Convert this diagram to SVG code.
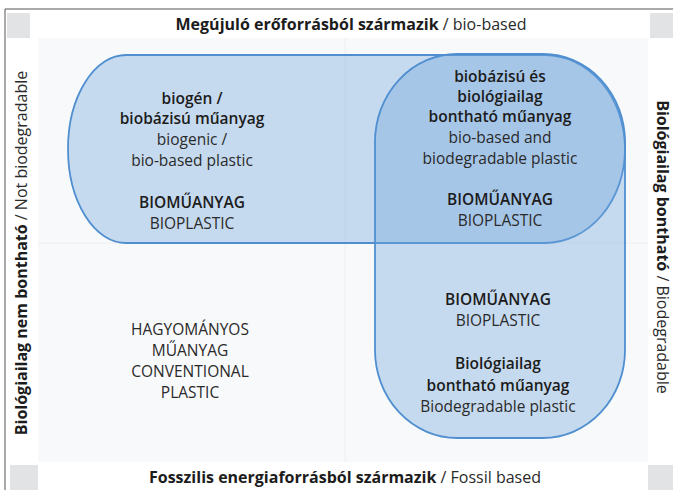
<svg xmlns="http://www.w3.org/2000/svg" width="673" height="490" viewBox="0 0 673 490">
  <style>
    text { font-family: "Open Sans", "Noto Sans", sans-serif; fill: #1c1c1c; text-anchor: middle; dominant-baseline: central; }
    .node text { font-size: 15.5px; }
    .b { font-weight: 600; }
    .r { font-weight: normal; fill: #2a2a2a; }
    .axis { font-size: 16px; }
    .axis .b { font-weight: bold; }
    .pill { fill: #6fa4dc; fill-opacity: 0.36; stroke: #4f8fd0; stroke-width: 1.8; }
    .corner { fill: #e2e3e5; }
  </style>
  <rect width="673" height="490" fill="#ffffff"/>
  <g id="frame">
    <rect x="38" y="38" width="610" height="424" fill="#f8f9fa"/>
    <line x1="345" y1="38" x2="345" y2="462" stroke="#eceef1" stroke-width="1"/>
    <line x1="38" y1="243" x2="648" y2="243" stroke="#eceef1" stroke-width="1"/>
    <line x1="5" y1="9" x2="673" y2="9" stroke="#555" stroke-width="1"/>
    <line x1="5" y1="9" x2="5" y2="490" stroke="#555" stroke-width="1"/>
    <rect class="corner" x="7" y="13" width="23" height="25"/>
    <rect class="corner" x="650" y="13" width="23" height="25"/>
    <rect class="corner" x="10" y="465" width="28" height="25"/>
    <rect class="corner" x="648" y="465" width="25" height="25"/>
  </g>
  <g id="axis-labels">
    <text class="axis" x="351" y="24"><tspan class="b">Megújuló erőforrásból származik</tspan><tspan class="r"> / bio-based</tspan></text>
    <text class="axis" x="345" y="477"><tspan class="b">Fosszilis energiaforrásból származik</tspan><tspan class="r"> / Fossil based</tspan></text>
    <text class="axis" transform="translate(21,253) rotate(-90)"><tspan class="b">Biológiailag nem bontható</tspan><tspan class="r"> / Not biodegradable</tspan></text>
    <text class="axis" transform="translate(663,247) rotate(90)"><tspan class="b">Biológiailag bontható</tspan><tspan class="r"> / Biodegradable</tspan></text>
  </g>
  <g id="connectors"></g>
  <g id="biobased-pill">
    <path class="pill" d="M 126,55 H 545 A 80 94 0 0 1 625 149 A 80 94 0 0 1 545 243 H 126 A 58 94 0 0 1 68 149 A 58 94 0 0 1 126 55 Z"/>
  </g>
  <g id="biodegradable-pill">
    <rect class="pill" x="375" y="54" width="250" height="384" rx="82" ry="88"/>
  </g>
  <g id="node-biogenic" class="node">
    <text class="b" x="192" y="98">biogén /</text>
    <text class="b" x="192" y="118">biobázisú műanyag</text>
    <text class="r" x="192" y="139">biogenic /</text>
    <text class="r" x="192" y="160">bio-based plastic</text>
    <text class="b" x="192" y="202">BIOMŰANYAG</text>
    <text class="r" x="192" y="223">BIOPLASTIC</text>
  </g>
  <g id="node-biobased-biodegradable" class="node">
    <text class="b" x="500" y="76">biobázisú és</text>
    <text class="b" x="500" y="96">biológiailag</text>
    <text class="b" x="500" y="116">bontható műanyag</text>
    <text class="r" x="500" y="137">bio-based and</text>
    <text class="r" x="500" y="158">biodegradable plastic</text>
    <text class="b" x="500" y="199">BIOMŰANYAG</text>
    <text class="r" x="500" y="220">BIOPLASTIC</text>
  </g>
  <g id="node-biodegradable" class="node">
    <text class="b" x="498" y="299">BIOMŰANYAG</text>
    <text class="r" x="498" y="320">BIOPLASTIC</text>
    <text class="b" x="498" y="363">Biológiailag</text>
    <text class="b" x="498" y="385">bontható műanyag</text>
    <text class="r" x="498" y="406">Biodegradable plastic</text>
  </g>
  <g id="node-conventional" class="node">
    <text class="r" x="190" y="329">HAGYOMÁNYOS</text>
    <text class="r" x="190" y="350">MŰANYAG</text>
    <text class="r" x="190" y="371">CONVENTIONAL</text>
    <text class="r" x="190" y="392">PLASTIC</text>
  </g>
</svg>
